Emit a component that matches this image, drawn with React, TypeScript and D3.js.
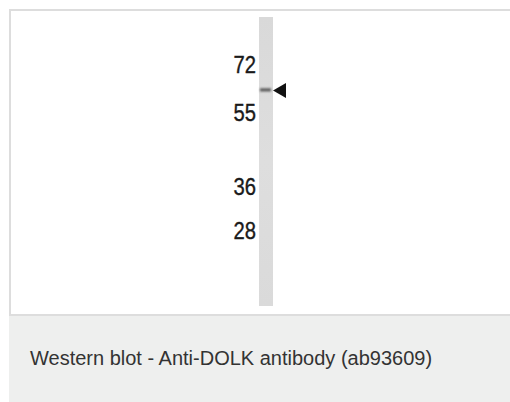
import React from "react";
import * as d3 from "d3";

const markerWeights = [72, 55, 36, 28];
const markerLabels = ["72", "55", "36", "28"];
const bandWeights = [62.5];
const bandIntensity = [0.85];
const caption = "Western blot - Anti-DOLK antibody (ab93609)";

const W = 510;
const H = 402;

export default function App() {
  const laneTop = 17;
  const laneBottom = 306;
  const laneX = 259;
  const laneW = 14;
  const y = d3.scaleLog().domain([94.8, 18.17]).range([laneTop, laneBottom]);
  const color = d3.scaleLinear<string>().domain([0, 1]).range(["#dcdcdc", "#3a3a3a"]);

  return (
    <svg width={W} height={H} style={{ position: "absolute", left: 0, top: 0 }}>
      <defs>
        <filter id="blur" x="-50%" y="-200%" width="200%" height="500%">
          <feGaussianBlur stdDeviation="0.9" />
        </filter>
        <linearGradient id="lane" x1="0" x2="0" y1="0" y2="1">
          <stop offset="0" stopColor="#d9d9d9" />
          <stop offset="0.5" stopColor="#dedede" />
          <stop offset="1" stopColor="#dadada" />
        </linearGradient>
      </defs>
      <rect x={0} y={0} width={W} height={H} fill="#ffffff" />
      <rect x={10} y={10} width={W} height={305} fill="#ffffff" stroke="#dddddd" strokeWidth={2} />
      <rect x={9} y={316} width={W} height={86} fill="#eeefee" />
      <rect x={laneX} y={laneTop} width={laneW} height={laneBottom - laneTop} fill="url(#lane)" />
      {bandWeights.map((w, i) => (
        <rect
          key={i}
          x={laneX + 1}
          y={y(w) - 1.5}
          width={laneW - 3}
          height={3}
          fill={color(bandIntensity[i])}
          filter="url(#blur)"
        />
      ))}
      {bandWeights.map((w, i) => {
        const yy = y(w) + 0.5;
        const tip = laneX + laneW;
        return (
          <path
            key={"a" + i}
            d={`M${tip},${yy} L${tip + 13},${yy - 7.5} L${tip + 13},${yy + 7.5} Z`}
            fill="#111111"
          />
        );
      })}
      {markerWeights.map((w, i) => (
        <text
          key={i}
          transform={`translate(256,${y(w)}) scale(0.92,1.05)`}
          dy="0.36em"
          textAnchor="end"
          fontFamily="Liberation Sans, Arial, sans-serif"
          fontSize={22}
          fill="#1a1a1a"
          stroke="#1a1a1a"
          strokeWidth={0.35}
        >
          {markerLabels[i]}
        </text>
      ))}
      <text
        x={30}
        y={365}
        fontFamily="Liberation Sans, Arial, sans-serif"
        fontSize={20}
        fill="#333333"
      >
        {caption}
      </text>
    </svg>
  );
}
